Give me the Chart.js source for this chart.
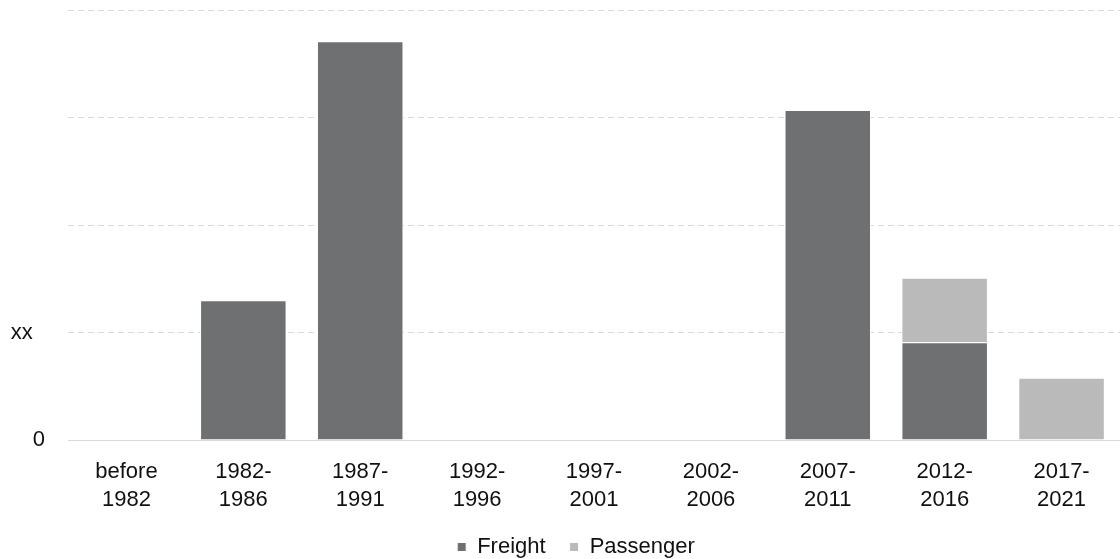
<!DOCTYPE html>
<html>
<head>
<meta charset="utf-8">
<script src="https://cdn.jsdelivr.net/npm/chart.js@4"></script>
<style>
    html, body { margin: 0; padding: 0; background: #ffffff; }
    #wrap { width: 1120px; height: 559px; position: relative; }
</style>
</head>
<body>
<div id="wrap"><canvas id="chart"></canvas></div>
<script>
const periods = [['before', '1982'], ['1982-', '1986'], ['1987-', '1991'], ['1992-', '1996'], ['1997-', '2001'],
    ['2002-', '2006'], ['2007-', '2011'], ['2012-', '2016'], ['2017-', '2021']];
const freight = [0, 1.30, 3.71, 0, 0, 0, 3.07, 0.91, 0];
const passenger = [0, 0, 0, 0, 0, 0, 0, 0.60, 0.58];
const yTickLabels = { 0: '0', 1: 'xx  ' };

Chart.defaults.font.family = '"Liberation Sans", Arial, sans-serif';
Chart.defaults.font.size = 22;
Chart.defaults.color = '#111111';

// keep the legend row short and nudge it a bit right, like the original
const legendFit = {
    id: 'legendFit',
    beforeInit(chart) {
        const fit = chart.legend.fit;
        chart.legend.fit = function () {
            fit.call(this);
            this.height = 47;
        };
    },
    afterLayout(chart) {
        chart.legend.left += 16;
        chart.legend.right += 16;
    },
};

new Chart(document.getElementById('chart').getContext('2d'), {
    type: 'bar',
    data: {
        labels: periods,
        datasets: [{
            label: 'Freight',
            data: freight,
            backgroundColor: '#6f7072',
            borderColor: '#ffffff',
            borderWidth: 1,
            barPercentage: 0.74,
            categoryPercentage: 1,
        }, {
            label: 'Passenger',
            data: passenger,
            backgroundColor: '#bababa',
            borderColor: '#ffffff',
            borderWidth: 1,
            barPercentage: 0.74,
            categoryPercentage: 1,
        }],
    },
    plugins: [legendFit],
    options: {
        responsive: true,
        maintainAspectRatio: false,
        animation: false,
        layout: { padding: { top: 10, right: 0, left: 0, bottom: 0 } },
        plugins: {
            legend: {
                position: 'bottom',
                labels: {
                    boxWidth: 9,
                    boxHeight: 9,
                    padding: 24,
                    font: { size: 22 },
                },
            },
            tooltip: { enabled: false },
        },
        scales: {
            x: {
                stacked: true,
                grid: { display: false },
                border: { display: true, color: '#d9d9d9', width: 1 },
                afterFit: (scale) => { scale.height = 72; },
                ticks: { padding: 10, font: { size: 22, lineHeight: 1.28 }, maxRotation: 0 },
            },
            y: {
                stacked: true,
                min: 0,
                max: 4,
                grid: { color: '#d9d9d9', drawTicks: false },
                border: { display: false, dash: [6, 4] },
                afterFit: (scale) => {
                    scale.width = 68;
                    scale.paddingTop = 0;
                },
                ticks: {
                    stepSize: 1,
                    padding: 23,
                    font: { size: 22, lineHeight: 1 },
                    callback: (value) => yTickLabels[value] || '',
                },
            },
        },
    },
});
</script>
</body>
</html>
